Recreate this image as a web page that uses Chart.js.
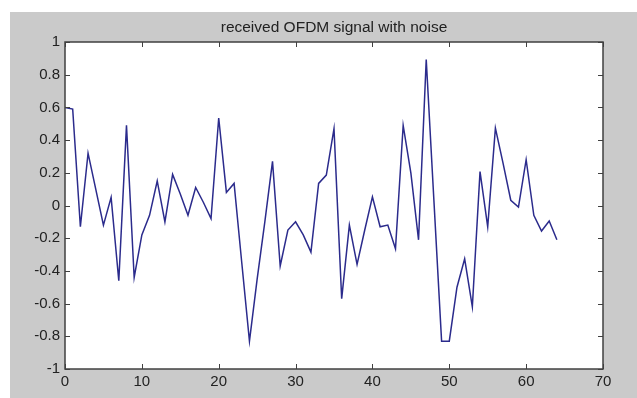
<!DOCTYPE html>
<html>
<head>
<meta charset="utf-8">
<script src="https://cdn.jsdelivr.net/npm/chart.js@4/dist/chart.umd.min.js"></script>
<style>
  html, body { margin: 0; padding: 0; background: #fff; }
  #wrap { width: 637px; height: 398px; }
</style>
</head>
<body>
<div id="wrap"><canvas id="c"></canvas></div>
<script>
// sample index 0..64
const sampleIndex = [];
for (let i = 0; i <= 64; i++) sampleIndex.push(i);

// received signal values
const signalValues = [
  0.60, 0.59, -0.13, 0.32, 0.10, -0.12, 0.05, -0.46, 0.49, -0.44,
  -0.18, -0.06, 0.15, -0.10, 0.19, 0.07, -0.06, 0.11, 0.02, -0.08,
  0.535, 0.08, 0.135, -0.35, -0.83, -0.45, -0.10, 0.27, -0.37, -0.15,
  -0.10, -0.18, -0.285, 0.135, 0.186, 0.47, -0.57, -0.12, -0.36, -0.15,
  0.053, -0.13, -0.12, -0.265, 0.49, 0.20, -0.21, 0.893, 0.03, -0.83,
  -0.83, -0.50, -0.326, -0.62, 0.207, -0.13, 0.473, 0.258, 0.032, -0.01,
  0.28, -0.06, -0.156, -0.095, -0.21
];

const xTicks = [0, 10, 20, 30, 40, 50, 60, 70];
const yTicks = [-1, -0.8, -0.6, -0.4, -0.2, 0, 0.2, 0.4, 0.6, 0.8, 1];
const titleText = 'received OFDM signal with noise';
const fontFamily = 'Liberation Sans, Arial, sans-serif';

const figureBg = {
  id: 'figureBg',
  beforeDraw(chart) {
    const { ctx, chartArea: a } = chart;
    ctx.save();
    ctx.fillStyle = '#ffffff';
    ctx.fillRect(0, 0, chart.width, chart.height);
    ctx.fillStyle = '#cacaca';
    ctx.fillRect(10, 12, chart.width - 10, chart.height - 12);
    ctx.fillStyle = '#ffffff';
    ctx.fillRect(a.left, a.top, a.right - a.left, a.bottom - a.top);
    ctx.restore();
  },
  afterDraw(chart) {
    const { ctx, chartArea: a, scales } = chart;
    ctx.save();
    ctx.strokeStyle = '#404040';
    ctx.lineWidth = 1;
    ctx.beginPath();
    // inward ticks, matlab style
    xTicks.forEach(t => {
      const px = Math.round(scales.x.getPixelForValue(t)) + 0.5;
      ctx.moveTo(px, a.bottom); ctx.lineTo(px, a.bottom - 5);
      ctx.moveTo(px, a.top); ctx.lineTo(px, a.top + 5);
    });
    yTicks.forEach(t => {
      const py = Math.round(scales.y.getPixelForValue(t)) + 0.5;
      ctx.moveTo(a.left, py); ctx.lineTo(a.left + 5, py);
      ctx.moveTo(a.right, py); ctx.lineTo(a.right - 5, py);
    });
    ctx.stroke();
    ctx.lineWidth = 1.5;
    ctx.strokeRect(a.left, a.top, a.right - a.left, a.bottom - a.top);

    // title centred over the axes box, like matlab does
    ctx.fillStyle = '#222';
    ctx.font = '15.5px ' + fontFamily;
    ctx.textAlign = 'center';
    ctx.textBaseline = 'middle';
    ctx.fillText(titleText, (a.left + a.right) / 2, 28);
    ctx.restore();
  }
};

const points = sampleIndex.map((x, i) => ({ x: x, y: signalValues[i] }));

new Chart(document.getElementById('c'), {
  type: 'line',
  data: {
    datasets: [{
      label: 'received signal',
      data: points,
      borderColor: '#2b2b8c',
      borderWidth: 1.5,
      pointRadius: 0,
      tension: 0,
      fill: false
    }]
  },
  options: {
    responsive: true,
    maintainAspectRatio: false,
    animation: false,
    layout: { padding: { left: 10, top: 42, right: 34, bottom: 0 } },
    plugins: {
      legend: { display: false },
      tooltip: { enabled: false },
      title: { display: false }
    },
    scales: {
      x: {
        type: 'linear',
        min: 0,
        max: 70,
        afterBuildTicks: s => { s.ticks = xTicks.map(v => ({ value: v })); },
        afterFit: s => { s.height = 29; },
        grid: { display: false, drawTicks: false },
        border: { display: false },
        ticks: {
          color: '#222',
          padding: 4,
          maxRotation: 0,
          font: { family: fontFamily, size: 15 }
        }
      },
      y: {
        min: -1,
        max: 1,
        afterBuildTicks: s => { s.ticks = yTicks.map(v => ({ value: v })); },
        afterFit: s => { s.width = 55; },
        grid: { display: false, drawTicks: false },
        border: { display: false },
        ticks: {
          color: '#222',
          padding: 5,
          font: { family: fontFamily, size: 15 },
          callback: v => String(Number(v.toFixed(1)))
        }
      }
    }
  },
  plugins: [figureBg]
});
</script>
</body>
</html>
